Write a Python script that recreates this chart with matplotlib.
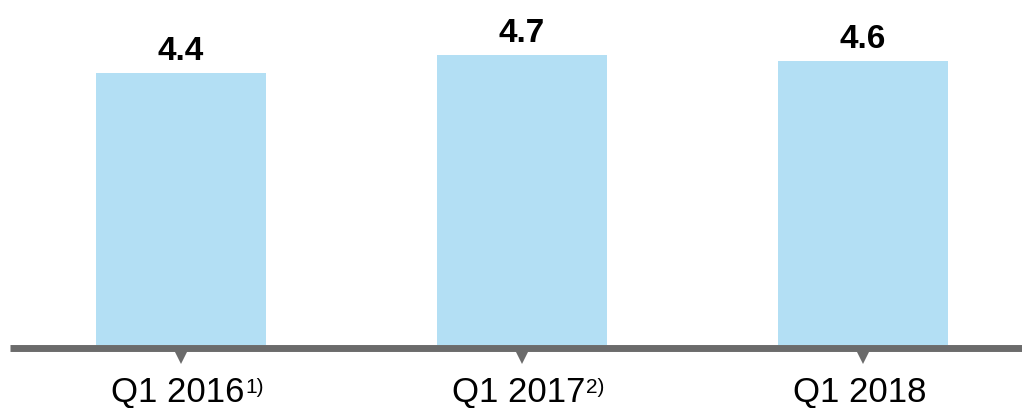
import matplotlib
matplotlib.use("Agg")
import matplotlib.pyplot as plt

# Quarterly values
categories = ["Q1 2016", "Q1 2017", "Q1 2018"]
footnotes = ["1)", "2)", ""]
values = [4.4, 4.7, 4.6]

BAR_COLOR = "#b3dff4"
AXIS_COLOR = "#6b6b6b"

plt.rcParams["font.family"] = ["Liberation Sans", "DejaVu Sans"]

fig = plt.figure(figsize=(10.22, 4.08), dpi=100)
ax = fig.add_axes([0, 0, 1, 1])
ax.set_xlim(-0.531, 2.466)
ax.set_ylim(-1.02, 5.583)
ax.axis("off")

x = list(range(len(categories)))
ax.bar(x, values, width=0.4985, color=BAR_COLOR, zorder=1)

# baseline with small pointers under each bar
ax.plot([-0.502, 2.466], [-0.057, -0.057], color=AXIS_COLOR, lw=5.0,
        solid_capstyle="butt", zorder=2)
ax.plot(x, [-0.16] * len(x), linestyle="none", marker="v", markersize=13,
        color=AXIS_COLOR, markeredgewidth=0, zorder=2)

for xi, v in zip(x, values):
    ax.annotate(f"{v:.1f}", xy=(xi, v), xytext=(0, 9.4), textcoords="offset points",
                ha="center", va="baseline", fontsize=24, fontweight="bold")

for xi, cat, fn in zip(x, categories, footnotes):
    t = ax.text(xi - 0.01, -0.925, cat, ha="center", va="baseline", fontsize=25)
    if fn:
        ax.annotate(fn, xy=(1, 1), xycoords=t, xytext=(0.5, -1),
                    textcoords="offset points", ha="left", va="top", fontsize=15)

fig.savefig("out.png", dpi=100)
